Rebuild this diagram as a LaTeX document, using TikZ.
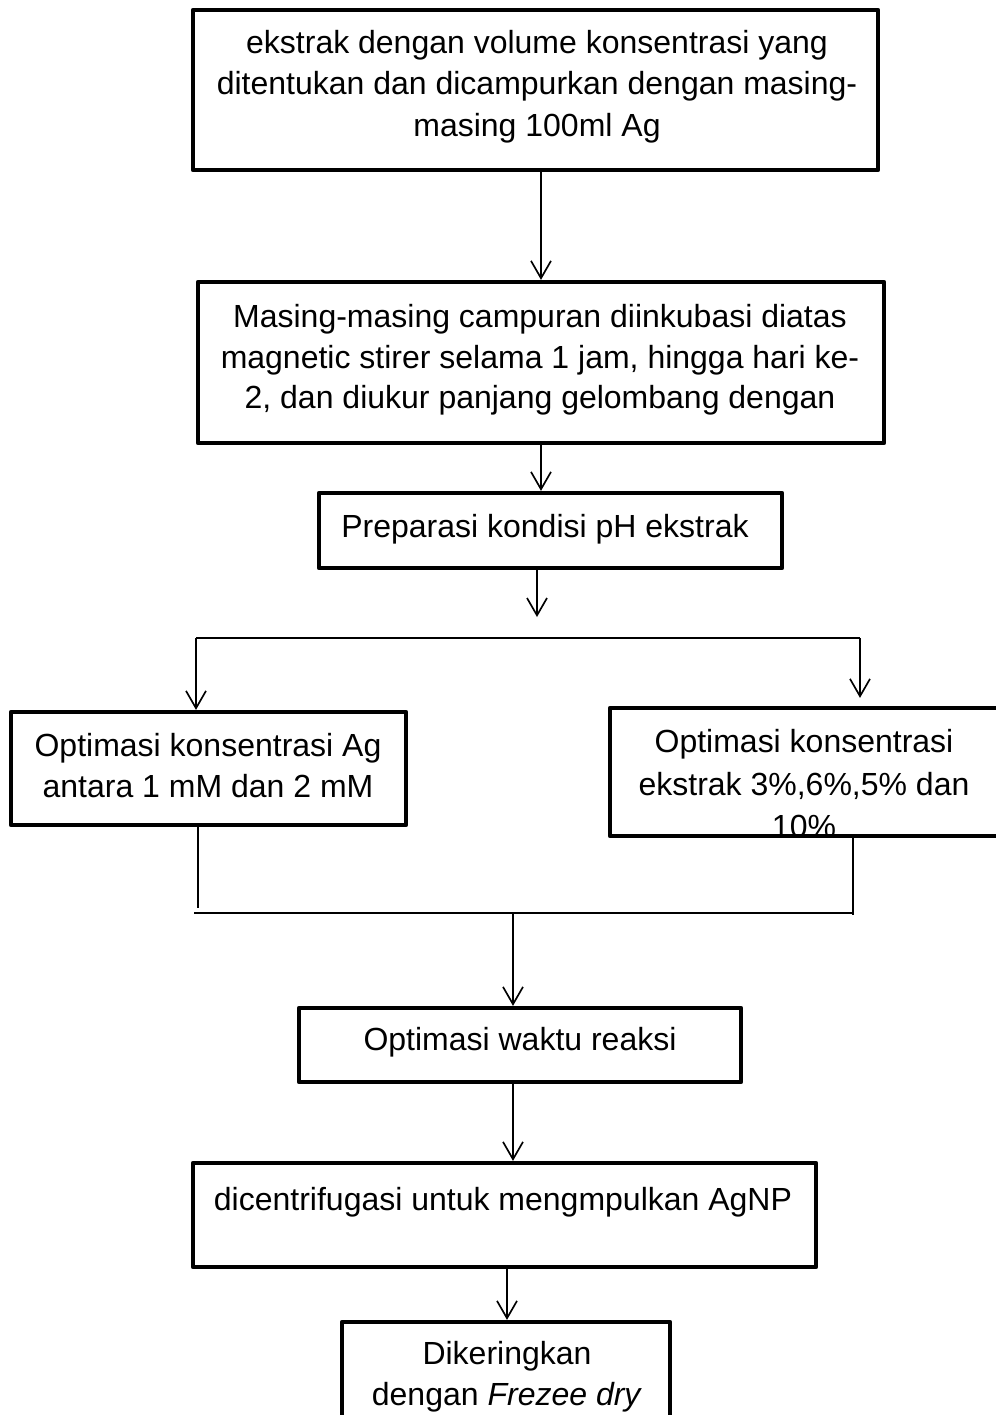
\documentclass[tikz,border=0pt]{standalone}
\usepackage{fontspec}
\setmainfont{Liberation Sans}
\usepackage{tikz}
\usetikzlibrary{positioning,arrows.meta,fit}
\tikzset{
  stepbox/.style={rectangle, draw, line width=3.2pt, line join=round, inner sep=0pt},
  boxtext/.style={anchor=north, align=center, inner sep=0pt, font=\fontsize{24}{31}\selectfont},
  arrow/.style={-{Straight Barb[length=13pt,width=15pt]}, line width=1.25pt},
  joinline/.style={line width=1.25pt}
}

\begin{document}
\begin{tikzpicture}[x=0.75pt, y=-0.75pt]
\useasboundingbox (0,0) rectangle (996,1415);
% main column
\node[stepbox, fit={(193,10) (878,170)}] (ekstrak) {};
\node[boxtext] (ekstraktxt) at (537,30) {ekstrak dengan volume konsentrasi yang\\ditentukan dan dicampurkan dengan masing-\\masing 100ml Ag};
\node[stepbox, fit={(198,282) (884,443)}] (inkubasi) {};
\node[boxtext, font=\fontsize{24}{30.5}\selectfont] (inkubasitxt) at (540,304) {Masing-masing campuran diinkubasi diatas\\magnetic stirer selama 1 jam, hingga hari ke-\\2, dan diukur panjang gelombang dengan};
\node[stepbox, fit={(319,493) (782,568)}] (preparasi) {};
\node[boxtext] (preparasitxt) at (545,514) {Preparasi kondisi pH ekstrak};
% the two optimisations
\node[stepbox, fit={(11,712) (406,825)}] (konsag) {};
\node[boxtext] (konsagtxt) at (208,733) {Optimasi konsentrasi Ag\\antara 1 mM dan 2 mM};
\begin{scope}
\clip (612,710) rectangle (1000,834);
\node[boxtext, font=\fontsize{24}{32}\selectfont] (konsekstxt) at (804,729) {Optimasi konsentrasi\\ekstrak 3\%,6\%,5\% dan\\10\%};
\end{scope}
\node[stepbox, fit={(610,708) (1001,836)}] (konseks) {};
% lower column
\node[stepbox, fit={(299,1008) (741,1082)}] (waktu) {};
\node[boxtext] (waktutxt) at (520,1027) {Optimasi waktu reaksi};
\node[stepbox, fit={(193,1163) (816,1267)}] (sentrifus) {};
\node[boxtext] (sentrifustxt) at (503,1187) {dicentrifugasi untuk mengmpulkan AgNP};
\node[stepbox, fit={(342,1322) (670,1460)}] (kering) {};
\node[boxtext] (keringtxt) at (507,1341) {Dikeringkan\\dengan \textit{Frezee dry}};
% branch and merge points
\coordinate (splitend) at (537,617);
\coordinate (splitL) at (196,638);
\coordinate (splitR) at (860,638);
\coordinate (dropL) at (198,908);
\coordinate (joinL) at (194,913);
\coordinate (joinR) at (853,913);
\coordinate (merge) at (513,913);
% connectors
\draw[arrow] (ekstrak.south -| inkubasi.north) -- (inkubasi.north);
\draw[arrow] (inkubasi.south) -- (inkubasi.south |- preparasi.north);
\draw[arrow] (preparasi.south -| splitend) -- (splitend);
\draw[joinline] (splitL) -- (splitR);
\draw[arrow] (splitL) -- (splitL |- konsag.north);
\draw[arrow, shorten >=6pt] (splitR) -- (splitR |- konseks.north);
\draw[joinline] (konsag.south -| dropL) -- (dropL);
\draw[joinline] (konseks.south -| joinR) -- ([yshift=-1.5pt]joinR);
\draw[joinline] (joinL) -- (joinR);
\draw[arrow] (merge) -- (merge |- waktu.north);
\draw[arrow] (waktu.south -| merge) -- (merge |- sentrifus.north);
\draw[arrow] (sentrifus.south -| keringtxt) -- (kering.north -| keringtxt);
\end{tikzpicture}
\end{document}
